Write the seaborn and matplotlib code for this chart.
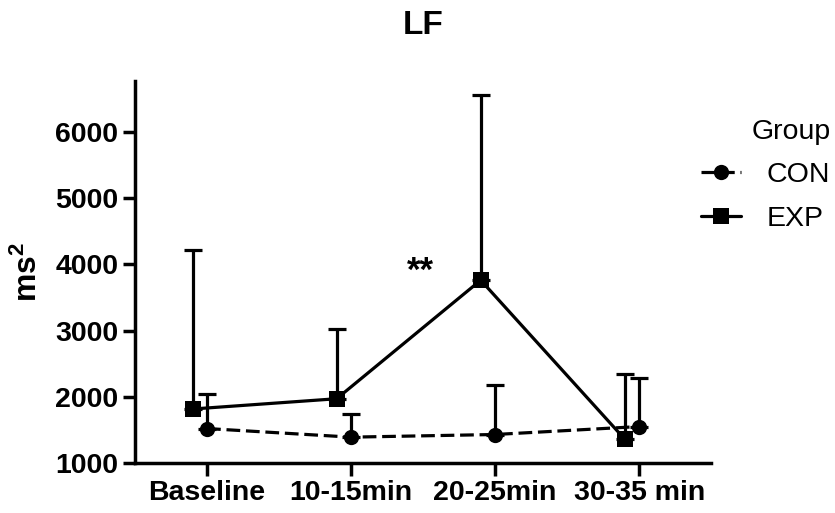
import numpy as np
import pandas as pd
import matplotlib
matplotlib.use("Agg")
import matplotlib.pyplot as plt
import seaborn as sns

# Time points and group summaries (mean and upper SD limit), ms^2
timepoints = ["Baseline", "10-15min", "20-25min", "30-35 min"]
con_mean = [1520, 1390, 1430, 1550]
con_upper = [2040, 1745, 2180, 2290]
exp_mean = [1815, 1970, 3760, 1360]
exp_upper = [4210, 3020, 6560, 2345]
groups = ["CON", "EXP"]

sns.set_theme(style="ticks")
plt.rcParams["font.family"] = ["Liberation Sans", "DejaVu Sans"]
plt.rcParams.update({
    "text.color": "black",
    "axes.labelcolor": "black",
    "xtick.color": "black",
    "ytick.color": "black",
    "mathtext.fontset": "custom",
    "mathtext.rm": "Liberation Sans",
    "mathtext.bf": "Liberation Sans:bold",
})

pos = np.arange(len(timepoints))
offsets = {"CON": 0.0, "EXP": -0.1}
means = {"CON": con_mean, "EXP": exp_mean}
uppers = {"CON": con_upper, "EXP": exp_upper}

df = pd.concat([
    pd.DataFrame({"x": pos + offsets[g], "value": means[g], "Group": g})
    for g in groups
], ignore_index=True)

fig = plt.figure(figsize=(8.35, 5.13), dpi=100)
ax = fig.add_axes([0.1617, 0.0975, 0.69, 0.745])

lw = 2.3
# upward-only error bars
for g in groups:
    m = np.array(means[g])
    up = np.array(uppers[g]) - m
    ax.errorbar(pos + offsets[g], m, yerr=[np.zeros_like(up), up],
                fmt="none", ecolor="black", elinewidth=lw, capsize=6.5,
                capthick=lw, zorder=2)

sns.lineplot(data=df, x="x", y="value", hue="Group", style="Group",
             hue_order=groups, style_order=groups,
             palette={"CON": "black", "EXP": "black"},
             markers={"CON": "o", "EXP": "s"},
             dashes={"CON": (4.3, 1.8), "EXP": ""},
             markersize=11, linewidth=lw, markeredgewidth=0,
             ax=ax, zorder=3)

ax.set_xlim(-0.5, 3.5)
ax.set_ylim(1000, 6770)
ax.set_xticks(pos)
ax.set_xticklabels(timepoints)
ax.set_yticks([1000, 2000, 3000, 4000, 5000, 6000])
ax.set_xlabel("")
ax.set_ylabel(r"ms$\mathbf{^2}$", fontsize=23, fontweight="bold", labelpad=8)
ax.set_title("LF", fontsize=24, fontweight="bold", pad=34)

for lab in ax.get_xticklabels() + ax.get_yticklabels():
    lab.set_fontweight("bold")
    lab.set_fontsize(20.5)
ax.tick_params(axis="both", length=9, width=2.5, color="black", pad=3)
sns.despine(ax=ax)
for s in ["left", "bottom"]:
    ax.spines[s].set_linewidth(2.5)
    ax.spines[s].set_color("black")

ax.text(1.48, 3900, "**", fontsize=25, fontweight="bold",
        ha="center", va="center")

leg = ax.legend(title="Group", frameon=False, fontsize=20.5, title_fontsize=20.5,
                loc="upper right", bbox_to_anchor=(1.207, 0.901),
                handlelength=1.4, handletextpad=0.9, labelspacing=0.62,
                borderaxespad=0, borderpad=0)
leg._legend_box.align = "right"

fig.savefig("out.png", dpi=100)
